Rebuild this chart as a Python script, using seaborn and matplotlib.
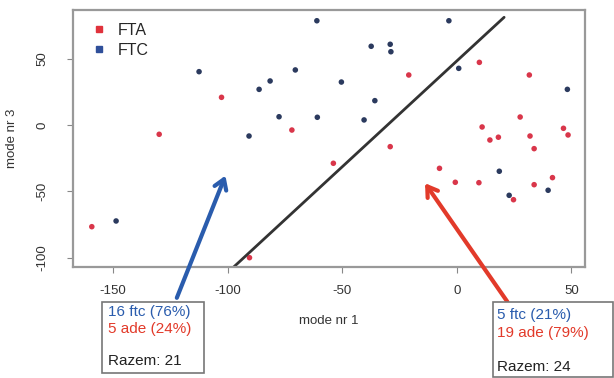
import numpy as np
import pandas as pd
import seaborn as sns
import matplotlib.pyplot as plt
from matplotlib.lines import Line2D
from matplotlib.patches import Rectangle

# FTC points (mode nr 1, mode nr 3)
ftc_x = [-61.1, -112.5, -70.5, -81.5, -86.3, -77.6, -60.9, -90.7, -3.5, -37.4, -29.1,
         -28.8, 0.8, -50.4, 48.2, -35.8, -40.5, -148.7, 18.5, 22.8, 39.8]
ftc_y = [78.4, 40.1, 41.4, 33.1, 26.8, 6.2, 5.8, -8.3, 78.4, 59.2, 60.7,
         55.1, 42.6, 32.3, 26.8, 18.3, 3.8, -72.2, -34.8, -52.9, -49.1]

# FTA points
fta_x = [-102.7, -129.9, -72.0, 9.8, -21.0, 31.6, 27.6, 11.0, 46.5, 31.9, 48.5, 14.4,
         18.1, -159.3, -90.5, -29.1, -53.9, -7.6, -0.7, 9.6, 24.7, 33.7, 41.7, 33.7]
fta_y = [20.8, -7.0, -3.8, 47.1, 37.6, 37.6, 6.0, -1.5, -2.5, -8.3, -7.5, -11.3,
         -9.2, -76.5, -99.8, -16.3, -28.8, -32.6, -43.1, -43.4, -56.2, -44.9, -39.6, -17.8]

# separating line
boundary_x = [-97.5, 20.6]
boundary_y = [-107.0, 81.0]

x_ticks = [-150, -100, -50, 0, 50]
y_ticks = [-100, -50, 0, 50]

left_box = ["16 ftc (76%)", "5 ade (24%)", "Razem: 21"]
right_box = ["5 ftc (21%)", "19 ade (79%)", "Razem: 24"]

col_fta = "#d9364a"
col_ftc = "#2b3a5e"
col_fta_leg = "#e0323c"
col_ftc_leg = "#2f4f9a"
col_arrow_blue = "#2a5cad"
col_arrow_red = "#e23a2a"

df = pd.DataFrame({
    "x": ftc_x + fta_x,
    "y": ftc_y + fta_y,
    "group": ["FTC"] * len(ftc_x) + ["FTA"] * len(fta_x),
})

sns.set_style("white")
plt.rcParams["font.family"] = ["Liberation Sans", "DejaVu Sans"]
plt.rcParams["axes.unicode_minus"] = False

fig = plt.figure(figsize=(6.14, 3.78), dpi=100)
ax = fig.add_axes([0.1189, 0.2937, 0.8339, 0.6799])

sns.scatterplot(data=df, x="x", y="y", hue="group",
                palette={"FTA": col_fta, "FTC": col_ftc},
                s=16, edgecolor="none", legend=False, ax=ax)

ax.plot(boundary_x, boundary_y, color="#333333", lw=2)

ax.set_xlim(-167.5, 55.9)
ax.set_ylim(-106.8, 86.5)
ax.set_xticks(x_ticks)
ax.set_yticks(y_ticks)
ax.set_yticklabels([str(v) for v in y_ticks], rotation=90, va="center")
ax.tick_params(axis="x", bottom=True, length=4, width=0.8, color="#888888", pad=9,
               labelsize=9.5, labelcolor="#333333")
ax.tick_params(axis="y", left=True, length=4, width=0.8, color="#888888", pad=14,
               labelsize=9.5, labelcolor="#333333")
for sp in ax.spines.values():
    sp.set_color("#999999")
    sp.set_linewidth(1.6)

ax.set_xlabel("mode nr 1", fontsize=9.5, color="#333333")
ax.set_ylabel("mode nr 3", fontsize=9.5, color="#333333")
ax.xaxis.set_label_coords(0.5, -0.185)
ax.yaxis.set_label_coords(-0.107, 0.5)

handles = [
    Line2D([], [], marker="s", linestyle="none", color=col_fta_leg, markersize=5),
    Line2D([], [], marker="s", linestyle="none", color=col_ftc_leg, markersize=5),
]
ax.legend(handles, ["FTA", "FTC"], loc="upper left", bbox_to_anchor=(0.025, 0.975),
          frameon=False, fontsize=11.5, handlelength=0.8, handletextpad=0.8,
          labelspacing=0.3, borderaxespad=0)

# arrows pointing from the summary boxes into each side
ax.annotate("", xy=(-101.0, -38.1), xytext=(-122.2, -130.0),
            arrowprops=dict(arrowstyle="->, head_length=0.7, head_width=0.45",
                            lw=3, color=col_arrow_blue, shrinkA=0, shrinkB=0),
            annotation_clip=False)
ax.annotate("", xy=(-13.9, -43.8), xytext=(22.0, -132.9),
            arrowprops=dict(arrowstyle="->, head_length=0.7, head_width=0.45",
                            lw=3, color=col_arrow_red, shrinkA=0, shrinkB=0),
            annotation_clip=False)

# summary boxes
fig.patches.append(Rectangle((0.1656, 0.0140), 0.1671, 0.1878, transform=fig.transFigure,
                             facecolor="white", edgecolor="#777777", lw=1.2, zorder=5))
fig.patches.append(Rectangle((0.8034, 0.0026), 0.1950, 0.1990, transform=fig.transFigure,
                             facecolor="white", edgecolor="#777777", lw=1.2, zorder=5))

box_colors = [col_arrow_blue, col_arrow_red, "#222222"]
for txt, yy, c in zip(left_box, [0.1754, 0.1296, 0.0458], box_colors):
    fig.text(0.1764, yy, txt, color=c, fontsize=11, va="center", ha="left", zorder=6)
for txt, yy, c in zip(right_box, [0.1667, 0.1183, 0.0299], box_colors):
    fig.text(0.809, yy, txt, color=c, fontsize=11, va="center", ha="left", zorder=6)

fig.savefig("out.png", dpi=100, facecolor="white")
